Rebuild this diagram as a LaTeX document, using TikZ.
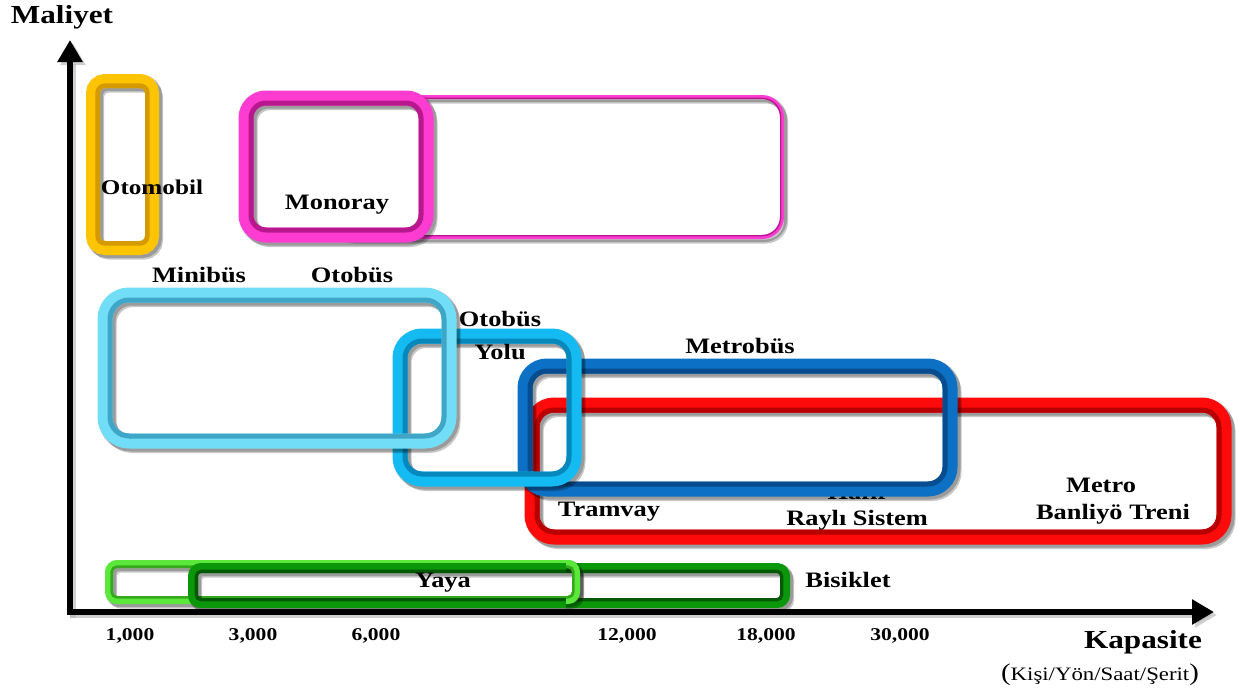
\documentclass[tikz,border=0pt]{standalone}
\usepackage{fontspec}
\setmainfont[FakeStretch=1.2]{Liberation Serif}
\usetikzlibrary{arrows.meta}

% One unit = one pixel of the final picture, y grows downwards
\tikzset{
  lab/.style={font=\bfseries\fontsize{22}{25}\selectfont, inner sep=0pt, text=black},
  num/.style={font=\bfseries\fontsize{18}{20}\selectfont, inner sep=0pt},
  axisline/.style={line width=6pt, -{Triangle[length=22pt,width=24pt]}, shorten <=-3pt},
  softshadow/.style={draw=black, opacity=0.22},
}

% \chartbox{dark}{light}{width}{radius}{x1}{y1}{x2}{y2}: a shaded tube frame
\newcommand{\chartbox}[8]{%
  \draw[softshadow, line width=#3pt+2pt, rounded corners=#4pt,
        transform canvas={shift={(2pt,-2pt)}}] (#5,#6) rectangle (#7,#8);
  \draw[softshadow, line width=#3pt, rounded corners=#4pt,
        transform canvas={shift={(4pt,-4.5pt)}}] (#5,#6) rectangle (#7,#8);
  \draw[draw=#2, line width=#3pt, rounded corners=#4pt] (#5,#6) rectangle (#7,#8);
  \draw[draw=#1, line width=#3pt/3, rounded corners=#4pt-#3pt/3]
       ({#5+#3/3},{#6+#3/3}) rectangle ({#7-#3/3},{#8-#3/3});
}
% same frame with a white inside
\newcommand{\chartboxfilled}[8]{%
  \fill[white, rounded corners=#4pt] (#5,#6) rectangle (#7,#8);
  \chartbox{#1}{#2}{#3}{#4}{#5}{#6}{#7}{#8}%
}

\definecolor{autoD}{HTML}{D49A00}\definecolor{autoL}{HTML}{FFC400}
\definecolor{monoD}{HTML}{B8188E}\definecolor{monoL}{HTML}{FF3CD2}
\definecolor{railD}{HTML}{B80000}\definecolor{railL}{HTML}{FF0A0A}
\definecolor{brtD}{HTML}{064C8E}\definecolor{brtL}{HTML}{0C70C4}
\definecolor{laneD}{HTML}{0688BC}\definecolor{laneL}{HTML}{14BAF2}
\definecolor{busD}{HTML}{3FA6C8}\definecolor{busL}{HTML}{72DDF7}
\definecolor{walkD}{HTML}{35A81C}\definecolor{walkL}{HTML}{5CE83A}
\definecolor{bikeD}{HTML}{045A04}\definecolor{bikeL}{HTML}{0A980A}

\begin{document}
\begin{tikzpicture}[x=1pt, y=-1pt]
\useasboundingbox[fill=white] (0,0) rectangle (1238,693);

% axes
\coordinate (O) at (70,612);
\coordinate (ytip) at (70,40);
\coordinate (xtip) at (1214,612);
\begin{scope}[transform canvas={shift={(3pt,-3pt)}}]
  \draw[axisline, draw=black!30, fill=black!30, opacity=0.6] (O) -- (ytip);
  \draw[axisline, draw=black!30, fill=black!30, opacity=0.6] (O) -- (xtip);
\end{scope}
\draw[axisline] (O) -- (ytip);
\draw[axisline] (O) -- (xtip);

% frames
\chartbox{autoD}{autoL}{14}{12}{93}{81}{152}{248}
\chartbox{monoD}{monoL}{4}{20}{330}{97}{782}{237}
\chartboxfilled{monoD}{monoL}{15}{20}{246}{98}{426}{235}
\chartbox{railD}{railL}{15}{22}{532}{405}{1224}{537}
\node[lab, anchor=base] (hafif) at (857,499) {Hafif};
\chartbox{brtD}{brtL}{15}{22}{525}{366}{950}{489}
\chartbox{laneD}{laneL}{15}{22}{400}{336}{574}{479}
\chartbox{busD}{busL}{15}{24}{105}{295}{449}{441}
\chartbox{walkD}{walkL}{8}{8}{109}{564}{576}{600}
\chartbox{bikeD}{bikeL}{10}{8}{193}{568}{785}{603}
\begin{scope}
  \clip (566,550) rectangle (600,625);
  \chartbox{walkD}{walkL}{8}{8}{109}{564}{576}{600}
\end{scope}

% labels
\node[font=\bfseries\fontsize{26}{28}\selectfont, inner sep=0pt] (maliyet) at (62,17) {Maliyet};
\node[lab, font=\bfseries\fontsize{21}{23}\selectfont] (otomobil) at (152,187) {Otomobil};
\node[lab] (monoray) at (337,205) {Monoray};
\node[lab] (minibus) at (199,275) {Minibüs};
\node[lab] (otobus) at (352,275) {Otobüs};
\node[lab] (otobusyolu1) at (500,319) {Otobüs};
\node[lab] (otobusyolu2) at (500,352) {Yolu};
\node[lab] (metrobus) at (740,346) {Metrobüs};
\node[lab] (tramvay) at (609,512) {Tramvay};
\node[lab] (rayli) at (857,520) {Raylı Sistem};
\node[lab] (metro) at (1101,485) {Metro};
\node[lab] (banliyo) at (1113,514) {Banliyö Treni};
\node[lab] (yaya) at (443,583) {Yaya};
\node[lab] (bisiklet) at (848,580) {Bisiklet};

\node[num] (n1) at (130,636) {1,000};
\node[num] (n3) at (253,636) {3,000};
\node[num] (n6) at (376,636) {6,000};
\node[num] (n12) at (627,636) {12,000};
\node[num] (n18) at (766,636) {18,000};
\node[num] (n30) at (900,636) {30,000};

\node[font=\bfseries\fontsize{26}{28}\selectfont, inner sep=0pt] (kapasite) at (1143,642) {Kapasite};
\node[font=\fontsize{19}{21}\selectfont, inner sep=0pt] (birim) at (1100,675)
  {{\fontsize{24}{24}\selectfont(}Kişi/Yön/Saat/Şerit{\fontsize{24}{24}\selectfont)}};
\end{tikzpicture}
\end{document}
